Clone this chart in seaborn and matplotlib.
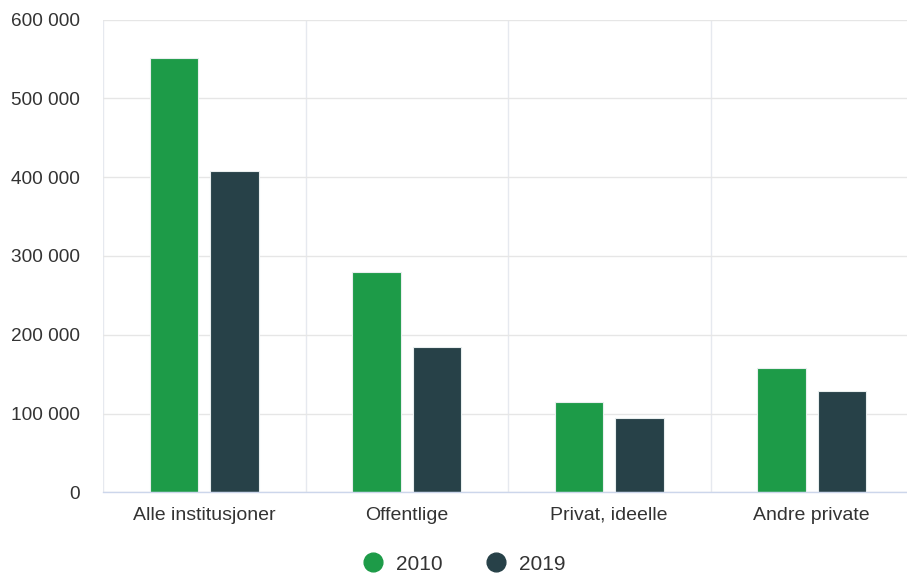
import matplotlib
matplotlib.use("Agg")
import matplotlib.pyplot as plt
import matplotlib.transforms as mtransforms
from matplotlib.lines import Line2D
from matplotlib.ticker import FuncFormatter, FixedLocator
import seaborn as sns
import pandas as pd

categories = ["Alle institusjoner", "Offentlige", "Privat, ideelle", "Andre private"]
series_names = ["2010", "2019"]
values_2010 = [551500, 279200, 114600, 157700]
values_2019 = [407400, 184000, 94700, 128200]
y_ticks = [0, 100000, 200000, 300000, 400000, 500000, 600000]
colors = ["#1d9b48", "#274148"]

df = pd.DataFrame({
    "Kategori": categories * 2,
    "År": [series_names[0]] * 4 + [series_names[1]] * 4,
    "Verdi": values_2010 + values_2019,
})

sns.set_theme(style="white")
plt.rcParams["font.family"] = ["Liberation Sans", "DejaVu Sans"]

W, H = 907, 573
fig = plt.figure(figsize=(W / 100, H / 100), dpi=100)
left_px, right_px, top_px, bottom_px = 103, 913, 19.5, 492.3
ax = fig.add_axes([left_px / W, 1 - bottom_px / H,
                   (right_px - left_px) / W, (bottom_px - top_px) / H])

sns.barplot(data=df, x="Kategori", y="Verdi", hue="År", hue_order=series_names,
            order=categories, palette=colors, saturation=1, width=0.6, gap=0.2,
            edgecolor="#e8eeee", linewidth=0.8, ax=ax, legend=False, zorder=3)

ax.set_xlim(-0.5, 3.5)
ax.set_ylim(0, 600000)
ax.set_yticks(y_ticks)
ax.yaxis.set_major_formatter(FuncFormatter(lambda v, p: f"{int(v):,}".replace(",", " ")))
ax.set_xticks(range(len(categories)))
ax.set_xticklabels([])
ax.set_xlabel("")
ax.set_ylabel("")

# category labels, baseline-aligned below the axis
trans = mtransforms.offset_copy(ax.get_xaxis_transform(), fig=fig, x=0, y=-27.7 * 0.72,
                                units="points")
for i, c in enumerate(categories):
    ax.text(i, 0, c, transform=trans, ha="center", va="baseline",
            fontsize=14, color="#333333")

for s in ["top", "right", "left"]:
    ax.spines[s].set_visible(False)
ax.spines["bottom"].set_color("#ccd6eb")
ax.spines["bottom"].set_linewidth(1.0)
ax.spines["bottom"].set_zorder(4)

ax.grid(axis="y", color="#e6e6e6", linewidth=1.0, zorder=0)
ax.xaxis.set_minor_locator(FixedLocator([-0.5, 0.5, 1.5, 2.5, 3.5]))
ax.grid(axis="x", which="minor", color="#e6e9ef", linewidth=1.0, zorder=0)
ax.grid(axis="x", which="major", visible=False)

ax.tick_params(axis="y", length=0, pad=16.5, labelsize=13.7, labelcolor="#333333")
ax.tick_params(axis="x", which="major", length=0)
ax.tick_params(axis="x", which="minor", length=9.4, width=1.0, color="#ccd6eb", direction="out")

handles = [Line2D([0], [0], marker="o", linestyle="", markersize=13.5,
                  markerfacecolor=c, markeredgecolor=c) for c in colors]
fig.legend(handles, series_names, loc="center", bbox_to_anchor=(464 / W, 1 - 564 / H),
           ncol=2, frameon=False, fontsize=15, handlelength=1.0, handletextpad=0.6,
           columnspacing=2.1, labelcolor="#333333", borderpad=0, borderaxespad=0)

fig.savefig("out.png", dpi=100)
